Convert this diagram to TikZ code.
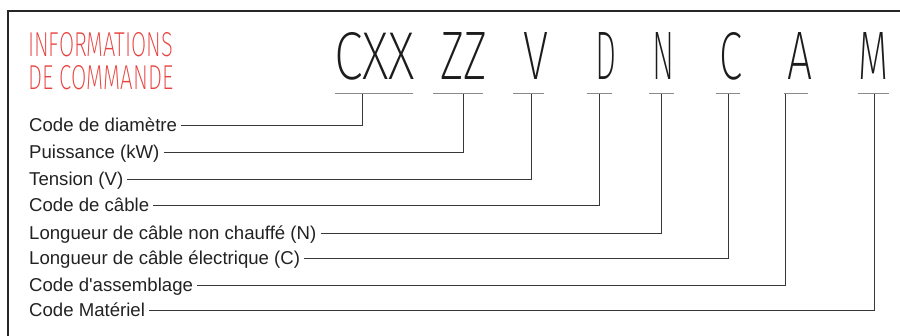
\documentclass[tikz,border=0pt]{standalone}
\usepackage{fontspec}
\usepackage{graphicx}
\setmainfont{Liberation Sans}[Ligatures=TeXOff]
\IfFontExistsTF{Fira Sans ExtraLight}{\newfontfamily\codefont{Fira Sans ExtraLight}}{%
  \IfFontExistsTF{Fira Sans Light}{\newfontfamily\codefont{Fira Sans Light}}{\newfontfamily\codefont{Fira Sans}}}
\definecolor{titlered}{HTML}{E8423F}
\definecolor{codeink}{HTML}{1C1C1C}
\definecolor{labelink}{HTML}{222222}
\definecolor{lineink}{HTML}{383838}
\definecolor{ulink}{HTML}{8A8A8A}
\begin{document}
\begin{tikzpicture}[x=1pt,y=-1pt,
  frameline/.style={draw=black!85,line width=1.1pt},
  codeletters/.style={anchor=south west,inner sep=0pt,text=codeink},
  titletext/.style={anchor=south west,inner sep=0pt,text=titlered},
  codelabel/.style={anchor=base west,inner xsep=4pt,inner ysep=0pt,text height=12pt,text depth=0pt,text=labelink,font=\fontsize{18.6}{20}\selectfont},
  underline/.style={draw=ulink,line width=1pt},
  connector/.style={draw=lineink,line width=1pt}]
\useasboundingbox (0,0) rectangle (900,336);
% frame (top and left edges only)
\coordinate (frTR) at (900,11);
\coordinate (frTL) at (8,11);
\coordinate (frBL) at (8,336);
\draw[frameline] (frTR) -- (frTL) -- (frBL);
% title
\node[titletext] (title1) at (28,57) {\resizebox{145pt}{24pt}{\codefont INFORMATIONS}};
\node[titletext] (title2) at (28,90) {\resizebox{145pt}{24pt}{\codefont DE COMMANDE}};
% code letters
\node[codeletters] (cxx) at (334,80) {\resizebox{81pt}{47pt}{\codefont CXX}};
\node[codeletters] (zz) at (440,80) {\resizebox{47pt}{47pt}{\codefont ZZ}};
\node[codeletters] (v) at (523,80) {\resizebox{25pt}{47pt}{\codefont V}};
\node[codeletters] (d) at (595,80) {\resizebox{21pt}{47pt}{\codefont D}};
\node[codeletters] (n) at (652,80) {\resizebox{22pt}{47pt}{\codefont N}};
\node[codeletters] (c) at (719,80) {\resizebox{23pt}{47pt}{\codefont C}};
\node[codeletters] (a) at (787,80) {\resizebox{25pt}{47pt}{\codefont A}};
\node[codeletters] (m) at (858,80) {\resizebox{30pt}{47pt}{\codefont M}};
% underlines
\coordinate (u1a) at (335,94); \coordinate (u1b) at (413,94); \coordinate (t1) at (362,94);
\coordinate (u2a) at (433,94); \coordinate (u2b) at (483,94); \coordinate (t2) at (463,94);
\coordinate (u3a) at (513,94); \coordinate (u3b) at (544,94); \coordinate (t3) at (531,94);
\coordinate (u4a) at (587,94); \coordinate (u4b) at (612,94); \coordinate (t4) at (599,94);
\coordinate (u5a) at (649,94); \coordinate (u5b) at (674,94); \coordinate (t5) at (661,94);
\coordinate (u6a) at (716,94); \coordinate (u6b) at (740,94); \coordinate (t6) at (728,94);
\coordinate (u7a) at (784,94); \coordinate (u7b) at (808,94); \coordinate (t7) at (785,94);
\coordinate (u8a) at (858,94); \coordinate (u8b) at (889,94); \coordinate (t8) at (874,94);
\foreach \i in {1,...,8}{\draw[underline] (u\i a) -- (u\i b);}
% labels
\node[codelabel] (l1) at (25,132) {Code de diamètre};
\node[codelabel] (l2) at (25,158.5) {Puissance (kW)};
\node[codelabel] (l3) at (25,186) {Tension (V)};
\node[codelabel] (l4) at (25,212) {Code de câble};
\node[codelabel] (l5) at (25,239.5) {Longueur de câble non chauffé (N)};
\node[codelabel] (l6) at (25,265) {Longueur de câble électrique (C)};
\node[codelabel] (l7) at (25,292) {Code d'assemblage};
\node[codelabel] (l8) at (25,317) {Code Matériel};
% connectors
\foreach \i in {1,...,8}{\draw[connector] (l\i.east) -| (t\i);}
\end{tikzpicture}
\end{document}
